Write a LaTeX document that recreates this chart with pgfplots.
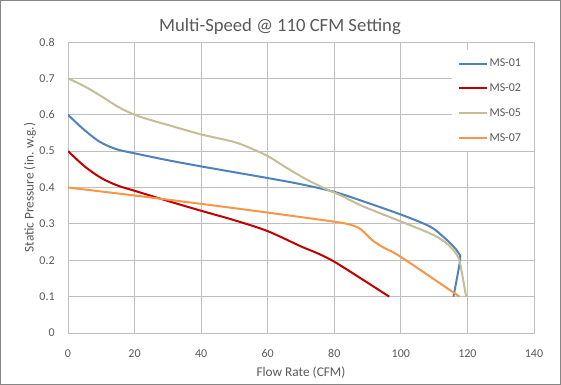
\documentclass[border=0pt]{standalone}
\usepackage{pgfplots}
\pgfplotsset{compat=1.18}
\usepackage{fontspec}
\setmainfont{Carlito}
\definecolor{txt}{HTML}{595959}
\definecolor{gridc}{HTML}{BFBFBF}
\definecolor{frame}{HTML}{868686}
\definecolor{cblue}{HTML}{4F81BD}
\definecolor{cred}{HTML}{C00000}
\definecolor{ctan}{HTML}{C4BD97}
\definecolor{corange}{HTML}{F79646}
\begin{document}
\begin{tikzpicture}
\draw[frame, line width=0.75pt] (0.375pt,-0.375pt) rectangle (420.375pt,-288.375pt);
\path (0,0) rectangle (420.75pt,-288.75pt);
\node[txt, font=\fontsize{14}{16}\selectfont, anchor=base] at (210pt,-23.5pt) {Multi-Speed @ 110 CFM Setting};
\begin{axis}[
  at={(51pt,-249.75pt)}, anchor=south west,
  scale only axis, width=349.5pt, height=218.25pt,
  xmin=0, xmax=140, ymin=0, ymax=0.8,
  xtick={0,20,...,140}, ytick={0,0.1,...,0.8},
  yticklabels={0,0.1,0.2,0.3,0.4,0.5,0.6,0.7,0.8},
  grid=major, major grid style={gridc, line width=0.75pt},
  axis line style={gridc, line width=0.75pt},
  tick style={draw=none},
  ticklabel style={txt, font=\fontsize{9}{11}\selectfont},
  /pgf/number format/assume math mode=true,
  xticklabel style={yshift=-9pt},
  yticklabel style={xshift=-6.5pt},
  xlabel={Flow Rate (CFM)}, ylabel={Static Pressure (in. w.g.)},
  label style={txt, font=\fontsize{10}{12}\selectfont},
  xlabel style={yshift=0pt},
  ylabel style={yshift=-4.25pt},
  legend style={at={(rel axis cs:1,1)}, anchor=north east, yshift=-6pt, draw=none, fill=white,
    font=\fontsize{9}{11}\selectfont, text=txt, inner xsep=4.5pt, inner ysep=6pt,
    row sep=10.5pt, nodes={inner sep=0pt, text height=6.3pt, text depth=1.8pt},
    /tikz/every odd column/.style={column sep=1pt}},
  legend cell align=left,
  legend image code/.code={\draw[#1] (0pt,0pt) -- (21pt,0pt);},
  every axis plot/.append style={line width=1.5pt, smooth, tension=0.5},
]
\addplot[cblue] coordinates {(0,0.600) (4.3,0.563) (9.3,0.527) (14.3,0.506) (20,0.494) (30,0.475) (40,0.458) (50,0.442) (60,0.426) (70,0.409) (80,0.388) (88.7,0.362) (100.2,0.325) (108.7,0.293) (112.7,0.265) (115.8,0.238) (117.3,0.220) (117.8,0.201) (115.8,0.100)};
\addlegendentry{MS-01\hspace*{5pt}}
\addplot[cred] coordinates {(0,0.500) (5,0.458) (10,0.426) (15,0.405) (20,0.391) (30,0.363) (40,0.336) (50,0.310) (60,0.280) (70,0.238) (75,0.219) (80,0.196) (88,0.150) (96.5,0.100)};
\addlegendentry{MS-02\hspace*{5pt}}
\addplot[ctan] coordinates {(0,0.700) (5,0.678) (10,0.651) (15,0.622) (20,0.600) (25,0.585) (30,0.572) (40,0.546) (50,0.525) (55.6,0.505) (60.1,0.486) (65.7,0.454) (71.7,0.422) (77.7,0.395) (82,0.378) (88.7,0.348) (100.2,0.306) (108.7,0.274) (112.7,0.254) (115.3,0.233) (116.8,0.215) (117.8,0.192) (119.6,0.100)};
\addlegendentry{MS-05\hspace*{5pt}}
\addplot[corange] coordinates {(0,0.400) (20,0.378) (40,0.355) (60,0.331) (80,0.306) (84.7,0.298) (87.7,0.287) (89.6,0.271) (91.7,0.253) (95,0.234) (100.2,0.208) (117.6,0.100)};
\addlegendentry{MS-07\hspace*{5pt}}
\end{axis}
\end{tikzpicture}
\end{document}
